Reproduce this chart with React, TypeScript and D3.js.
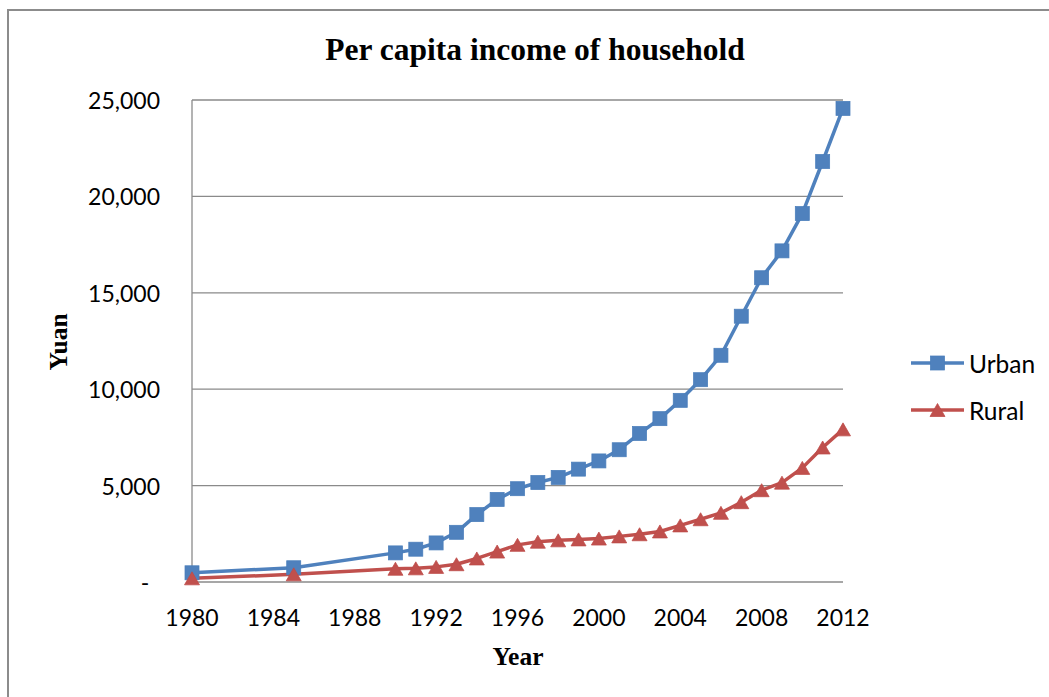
import React from "react";
import * as d3 from "d3";

const years = [1980, 1985, 1990, 1991, 1992, 1993, 1994, 1995, 1996, 1997, 1998, 1999, 2000, 2001, 2002, 2003, 2004, 2005, 2006, 2007, 2008, 2009, 2010, 2011, 2012];
const urban = [478, 739, 1510, 1701, 2027, 2577, 3496, 4283, 4839, 5160, 5425, 5854, 6280, 6860, 7703, 8472, 9422, 10493, 11759, 13786, 15781, 17175, 19109, 21810, 24565];
const rural = [191, 398, 686, 709, 784, 922, 1221, 1578, 1926, 2090, 2162, 2210, 2253, 2366, 2476, 2622, 2936, 3255, 3587, 4140, 4761, 5153, 5919, 6977, 7917];
const xTicks = [1980, 1984, 1988, 1992, 1996, 2000, 2004, 2008, 2012];
const yTicks = [0, 5000, 10000, 15000, 20000, 25000];
const seriesNames = ["Urban", "Rural"];

const W = 1049;
const H = 697;
const left = 192, right = 843, top = 100, bottom = 582;
const BLUE = "#4F81BD";
const RED = "#C0504D";
const GRID = "#8a8a8a";
const SANS = "Lato, Carlito, Calibri, sans-serif";
const SERIF = "'Liberation Serif', 'Times New Roman', serif";

const x = d3.scaleLinear().domain([1980, 2012]).range([left, right]);
const y = d3.scaleLinear().domain([0, 25000]).range([bottom, top]);
const fmt = d3.format(",");

function Square({ cx, cy }: { cx: number; cy: number }) {
  const s = 14;
  return <rect x={cx - s / 2} y={cy - s / 2} width={s} height={s} fill={BLUE} stroke="#4A7EBB" strokeWidth={0.75} />;
}

function Tri({ cx, cy }: { cx: number; cy: number }) {
  const w = 15, h = 13;
  const p = `M${cx},${cy - h / 2}L${cx + w / 2},${cy + h / 2}L${cx - w / 2},${cy + h / 2}Z`;
  return <path d={p} fill={RED} stroke="#BE4B48" strokeWidth={0.75} />;
}

export default function App() {
  const line = d3
    .line<number>()
    .x((_, i) => x(years[i]))
    .y((d) => y(d));

  return (
    <svg width={W} height={H} style={{ position: "absolute", left: 0, top: 0, background: "#fff" }}>
      <rect x={0} y={0} width={W} height={H} fill="#fff" />
      <rect x={8} y={10} width={1200} height={900} fill="none" stroke="#8c8c8c" strokeWidth={2} />
      <text x={535} y={60} textAnchor="middle" fontFamily={SERIF} fontWeight="bold" fontSize={31.5} fill="#000">
        Per capita income of household
      </text>
      {yTicks.filter((t) => t > 0).map((t) => (
        <line key={t} x1={left} x2={right} y1={y(t)} y2={y(t)} stroke={GRID} strokeWidth={1.3} />
      ))}
      <line x1={left} x2={left} y1={top} y2={bottom} stroke={GRID} strokeWidth={1.3} />
      <line x1={left} x2={right} y1={bottom} y2={bottom} stroke={GRID} strokeWidth={1.5} />
      {yTicks.map((t) =>
        t === 0 ? (
          <text key={t} x={145} y={y(t)} textAnchor="middle" dominantBaseline="central" fontFamily={SANS} fontSize={23} fill="#000">
            -
          </text>
        ) : (
          <text key={t} x={160} y={y(t)} textAnchor="end" dominantBaseline="central" fontFamily={SANS} fontSize={23} fill="#000">
            {fmt(t)}
          </text>
        )
      )}
      {xTicks.map((t) => (
        <text key={t} x={x(t)} y={617} textAnchor="middle" dominantBaseline="central" fontFamily={SANS} fontSize={23} fill="#000">
          {t}
        </text>
      ))}
      <text x={518} y={665} textAnchor="middle" fontFamily={SERIF} fontWeight="bold" fontSize={25.5} fill="#000">
        Year
      </text>
      <text transform={`translate(67,342) rotate(-90)`} textAnchor="middle" fontFamily={SERIF} fontWeight="bold" fontSize={25.5} fill="#000">
        Yuan
      </text>
      <path d={line(urban) || ""} fill="none" stroke={BLUE} strokeWidth={3.5} strokeLinejoin="round" />
      <path d={line(rural) || ""} fill="none" stroke={RED} strokeWidth={3.5} strokeLinejoin="round" />
      {urban.map((v, i) => (
        <Square key={"u" + i} cx={x(years[i])} cy={y(v)} />
      ))}
      {rural.map((v, i) => (
        <Tri key={"r" + i} cx={x(years[i])} cy={y(v)} />
      ))}
      <line x1={911} x2={964} y1={363} y2={363} stroke={BLUE} strokeWidth={3.5} />
      <Square cx={937.5} cy={363} />
      <text x={969} y={363} dominantBaseline="central" fontFamily={SANS} fontSize={24.5} fill="#000">
        {seriesNames[0]}
      </text>
      <line x1={911} x2={964} y1={410} y2={410} stroke={RED} strokeWidth={3.5} />
      <Tri cx={937.5} cy={410} />
      <text x={969} y={410} dominantBaseline="central" fontFamily={SANS} fontSize={24.5} fill="#000">
        {seriesNames[1]}
      </text>
    </svg>
  );
}
